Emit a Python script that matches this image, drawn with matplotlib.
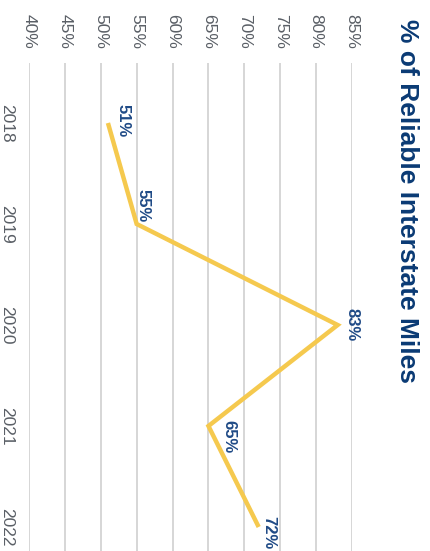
import matplotlib
matplotlib.use("Agg")
import matplotlib.pyplot as plt
import matplotlib.transforms as mtransforms

plt.rcParams['font.family'] = ['Liberation Sans', 'DejaVu Sans']

# data
years = [2018, 2019, 2020, 2021, 2022]
reliable_pct = [51, 55, 83, 65, 72]
pct_ticks = [40, 45, 50, 55, 60, 65, 70, 75, 80, 85]
title = "% of Reliable Interstate Miles"

# label nudges in pixels (x right, y down) so the labels sit beside the line
label_nudge = [(15, -2), (6, -18), (14, 0), (20, 11), (10, 6)]

line_color = '#F5C94E'
label_color = '#1F4A86'
title_color = '#0A3A74'
tick_color = '#5A5F66'

W, H = 431, 551
fig = plt.figure(figsize=(W / 100, H / 100), dpi=100)
ax = fig.add_axes([29 / W, 0, (352 - 29) / W, 1 - 63 / H])

# chart is drawn turned a quarter turn: percent runs left->right, years downward
ax.plot(reliable_pct, years, color=line_color, lw=3.2, solid_joinstyle='miter',
        solid_capstyle='butt', zorder=3)
for v, yr, (dx, dy) in zip(reliable_pct, years, label_nudge):
    off = mtransforms.offset_copy(ax.transData, fig=fig, x=dx * 0.72, y=-dy * 0.72,
                                  units='points')
    ax.text(v, yr, f"{v}%", transform=off, rotation=-90, ha='center', va='center',
            color=label_color, fontsize=12, fontweight='bold', zorder=4)

ax.set_xlim(40, 85)
ax.set_ylim(2022 + 24 / 101, 2018 - 60 / 101)
ax.set_xticks(pct_ticks)
ax.set_xticklabels([f"{p}%" for p in pct_ticks])
ax.set_yticks(years)
ax.set_yticklabels([str(y) for y in years])
ax.xaxis.tick_top()
ax.tick_params(axis='x', length=0, pad=10, labelsize=12.5, labelcolor=tick_color,
               labelrotation=-90)
ax.tick_params(axis='y', length=0, pad=11, labelsize=12.5, labelcolor=tick_color,
               labelrotation=-90)
for lab in ax.get_yticklabels():
    lab.set_va('center')
ax.grid(axis='x', color='#D6D6D6', lw=1.4)
ax.set_axisbelow(True)
for s in ax.spines.values():
    s.set_visible(False)

fig.text(407 / W, 1 - 19 / H, title, rotation=-90, ha='center', va='top',
         color=title_color, fontsize=19, fontweight='bold')

fig.savefig("out.png", dpi=100)
